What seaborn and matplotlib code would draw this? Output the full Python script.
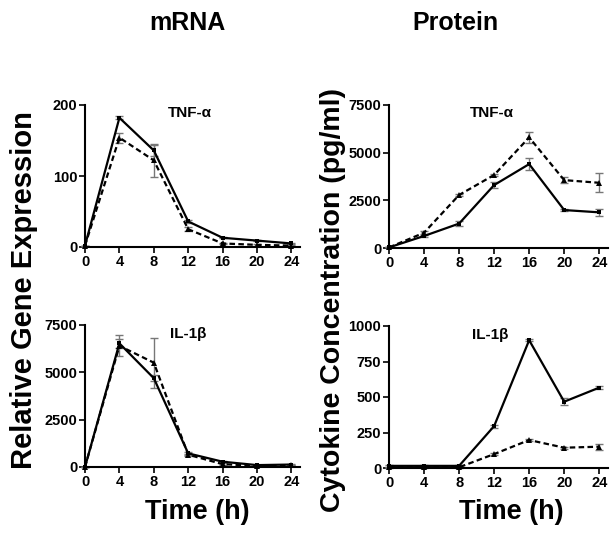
import numpy as np
import pandas as pd
import matplotlib
matplotlib.use("Agg")
import matplotlib.pyplot as plt
import seaborn as sns

# -------------------------
# Data
# -------------------------
hours = [0, 4, 8, 12, 16, 20, 24]

mrna_tnf_solid = [2, 182, 136, 36, 13, 9, 5]
mrna_tnf_solid_err = [0, 2, 8, 2, 1, 1, 1]
mrna_tnf_dash = [2, 154, 122, 25, 5, 3, 2]
mrna_tnf_dash_err = [0, 7, 23, 3, 1, 1, 1]

mrna_il_solid = [0, 6530, 4690, 720, 280, 100, 130]
mrna_il_solid_err = [0, 250, 150, 60, 40, 30, 30]
mrna_il_dash = [0, 6400, 5510, 650, 150, 60, 80]
mrna_il_dash_err = [0, 550, 1320, 60, 40, 30, 30]

prot_tnf_solid = [30, 630, 1280, 3300, 4400, 1990, 1870]
prot_tnf_solid_err = [0, 50, 150, 150, 300, 40, 200]
prot_tnf_dash = [30, 800, 2780, 3830, 5800, 3560, 3420]
prot_tnf_dash_err = [0, 80, 60, 60, 300, 150, 500]

prot_il_solid = [15, 15, 15, 295, 900, 467, 566]
prot_il_solid_err = [5, 5, 5, 10, 8, 25, 8]
prot_il_dash = [5, 5, 5, 98, 197, 143, 150]
prot_il_dash_err = [3, 3, 3, 8, 10, 8, 20]

sns.set_style("ticks")
plt.rcParams["font.family"] = ["Liberation Sans", "DejaVu Sans"]
plt.rcParams["font.weight"] = "bold"
for key in ("text.color", "axes.labelcolor", "xtick.color", "ytick.color",
            "axes.edgecolor"):
    plt.rcParams[key] = "black"

fig = plt.figure(figsize=(6.13, 5.36), dpi=100)

W, H = 613, 536


def make_axes(x0, y0, x_end, y_end):
    # pixel coords of origin and axis ends -> figure fraction
    return fig.add_axes([x0 / W, 1 - y0 / H, (x_end - x0) / W, (y0 - y_end) / H])


def draw_panel(ax, solid, solid_err, dash, dash_err, ymax, yticks, label, lab_xy):
    df = pd.DataFrame({
        "Time": hours * 2,
        "Value": solid + dash,
        "Group": ["solid"] * len(hours) + ["dash"] * len(hours),
    })
    ax.errorbar(hours, solid, yerr=solid_err, fmt="none", ecolor="#777777",
                elinewidth=1, capsize=3, capthick=1, zorder=2, clip_on=False)
    ax.errorbar(hours, dash, yerr=dash_err, fmt="none", ecolor="#777777",
                elinewidth=1, capsize=3, capthick=1, zorder=2, clip_on=False)
    sns.lineplot(data=df[df.Group == "solid"], x="Time", y="Value", ax=ax,
                 color="black", linewidth=1.6, marker="s", markersize=3.5,
                 markeredgewidth=0, clip_on=False, zorder=3)
    sns.lineplot(data=df[df.Group == "dash"], x="Time", y="Value", ax=ax,
                 color="black", linewidth=1.6, linestyle=(0, (2.5, 1.5)),
                 marker="^", markersize=4.5, markeredgewidth=0,
                 clip_on=False, zorder=3)
    ax.set_xlim(0, 25)
    ax.set_ylim(0, ymax)
    ax.set_xticks(hours)
    ax.set_yticks(yticks)
    ax.set_xlabel("")
    ax.set_ylabel("")
    sns.despine(ax=ax)
    for s in ("left", "bottom"):
        ax.spines[s].set_linewidth(1.5)
        ax.spines[s].set_color("black")
    ax.tick_params(width=1.2, length=4, labelsize=10.5, pad=1.5, colors="black")
    for t in ax.get_xticklabels() + ax.get_yticklabels():
        t.set_fontweight("bold")
    ax.text(lab_xy[0], lab_xy[1], label, transform=fig.transFigure,
            ha="center", va="center", fontsize=11, fontweight="bold",
            color="black")


ax1 = make_axes(85, 247, 300, 105)
draw_panel(ax1, mrna_tnf_solid, mrna_tnf_solid_err, mrna_tnf_dash,
           mrna_tnf_dash_err, 200, [0, 100, 200], "TNF-α",
           (190 / W, 1 - 113 / H))

ax2 = make_axes(85, 467, 300, 325)
draw_panel(ax2, mrna_il_solid, mrna_il_solid_err, mrna_il_dash,
           mrna_il_dash_err, 7500, [0, 2500, 5000, 7500], "IL-1β",
           (188 / W, 1 - 334 / H))

ax3 = make_axes(389, 248, 608, 105)
draw_panel(ax3, prot_tnf_solid, prot_tnf_solid_err, prot_tnf_dash,
           prot_tnf_dash_err, 7500, [0, 2500, 5000, 7500], "TNF-α",
           (492 / W, 1 - 113 / H))

ax4 = make_axes(389, 468, 608, 326)
draw_panel(ax4, prot_il_solid, prot_il_solid_err, prot_il_dash,
           prot_il_dash_err, 1000, [0, 250, 500, 750, 1000], "IL-1β",
           (490 / W, 1 - 335 / H))

# Column titles and axis labels
fig.text(187 / W, 1 - 23 / H, "mRNA", ha="center", va="center",
         fontsize=18, fontweight="bold")
fig.text(455 / W, 1 - 23 / H, "Protein", ha="center", va="center",
         fontsize=18, fontweight="bold")
fig.text(24 / W, 1 - 290 / H, "Relative Gene Expression", rotation=90,
         ha="center", va="center", fontsize=21, fontweight="bold")
fig.text(333 / W, 1 - 300 / H, "Cytokine Concentration (pg/ml)", rotation=90,
         ha="center", va="center", fontsize=20.5, fontweight="bold")
fig.text(197 / W, 1 - 512 / H, "Time (h)", ha="center", va="center",
         fontsize=19.5, fontweight="bold")
fig.text(511 / W, 1 - 512 / H, "Time (h)", ha="center", va="center",
         fontsize=19.5, fontweight="bold")

fig.savefig("out.png", dpi=100, facecolor="white")
